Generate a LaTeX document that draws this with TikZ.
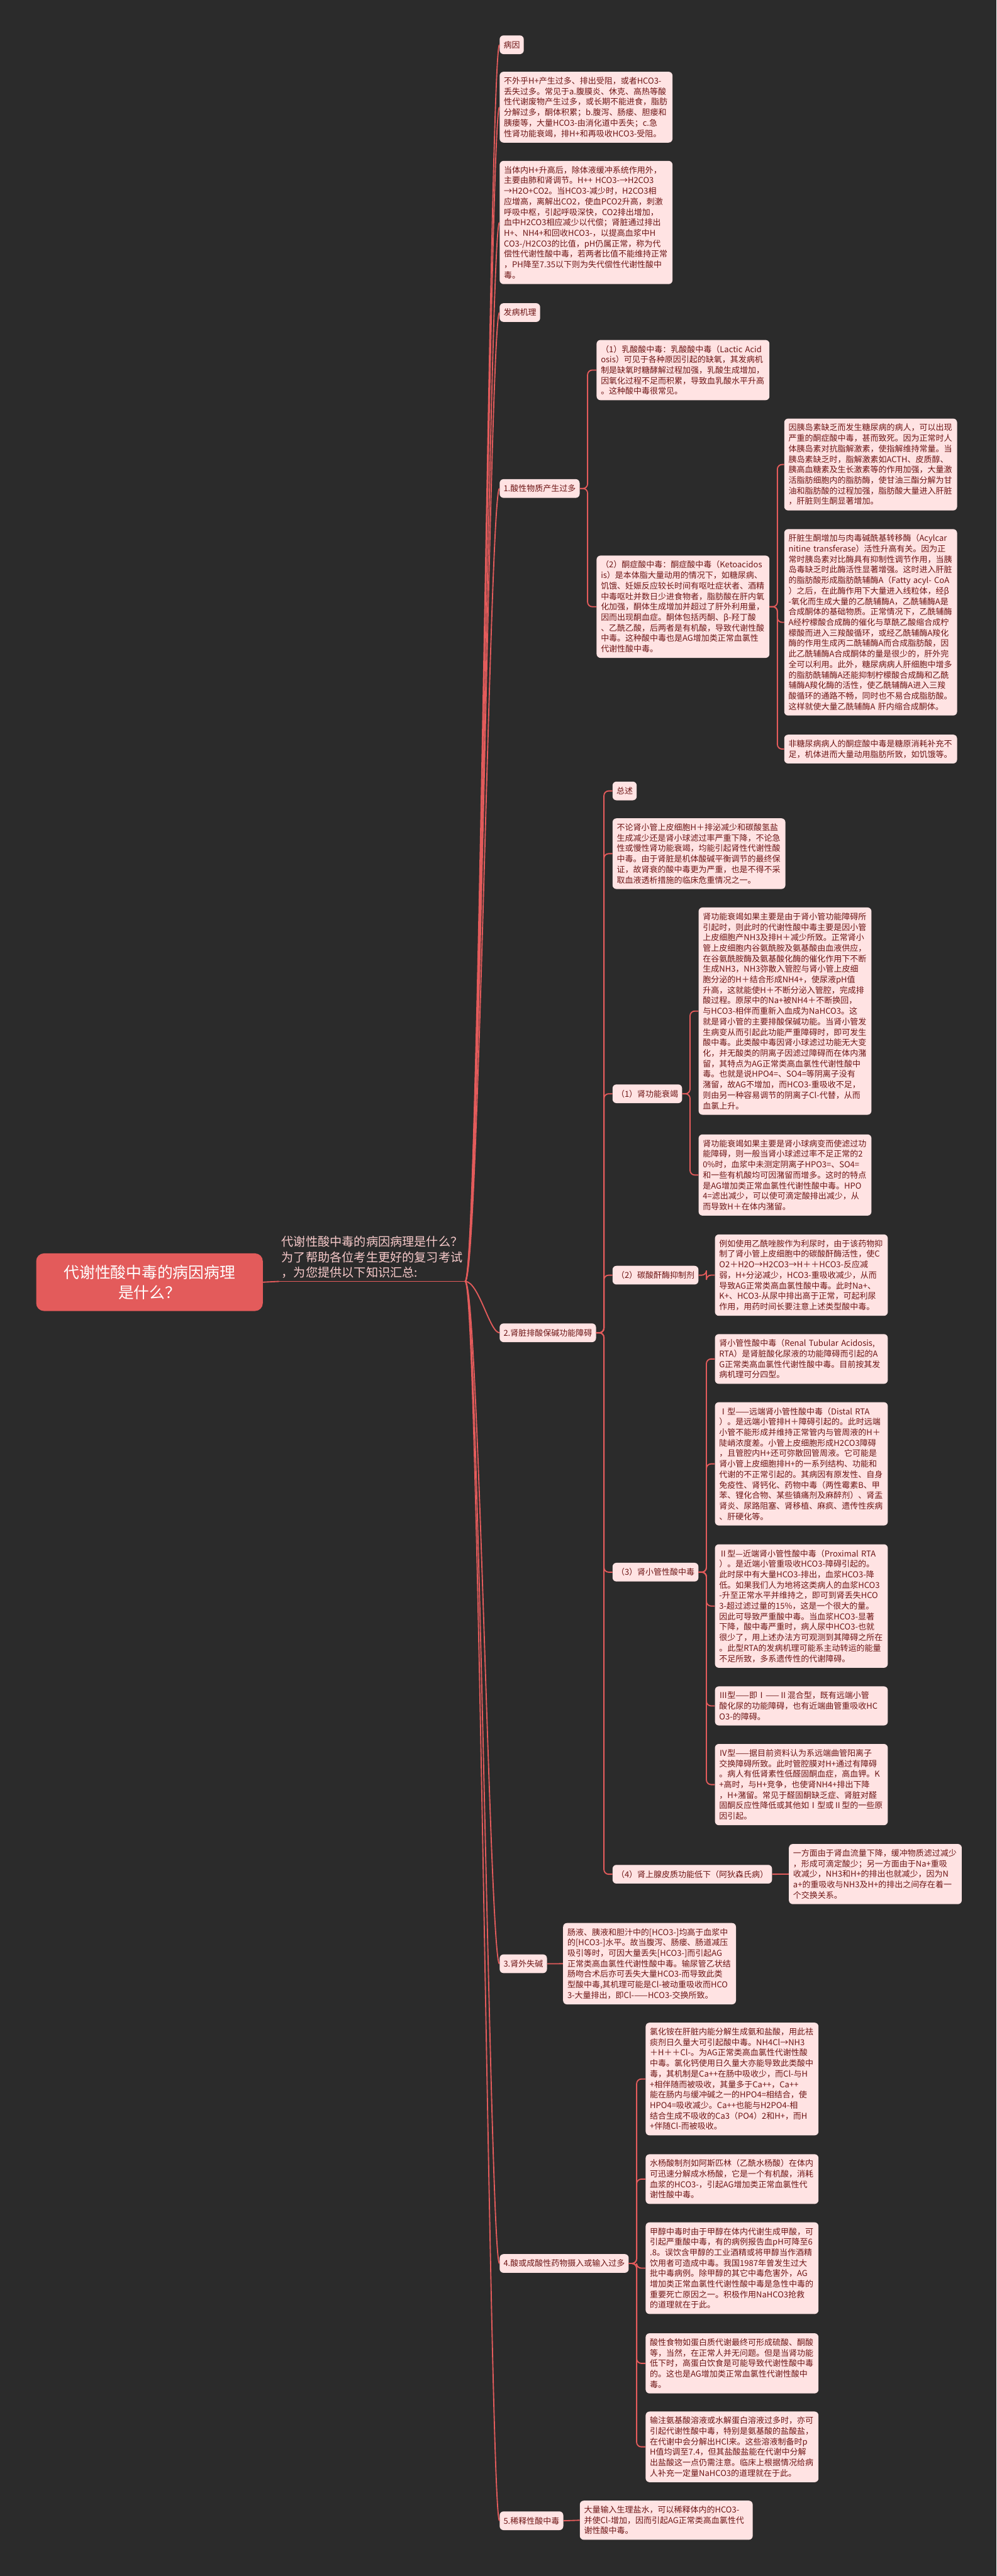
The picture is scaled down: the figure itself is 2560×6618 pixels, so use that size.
\documentclass[tikz,border=0pt]{standalone}
\usepackage{fontspec}
\setmainfont{Noto Sans CJK SC}
\usetikzlibrary{calc}
\definecolor{bg}{HTML}{2B2B2B}
\definecolor{linered}{HTML}{E35B5B}
\definecolor{boxfill}{HTML}{FFE3E3}
\definecolor{txt}{HTML}{6E1616}
\definecolor{rootred}{HTML}{E35B5B}
\definecolor{introtxt}{HTML}{F7CACA}
\newcommand\bodyfont{\fontsize{10.5pt}{13.5pt}\selectfont}
\newcommand\rootfont{\fontsize{20pt}{26pt}\selectfont}
\newcommand\introfont{\fontsize{15.5pt}{19.5pt}\selectfont}
\begin{document}
\begin{tikzpicture}[x=0.5pt,y=-0.5pt,
 box/.style={fill=boxfill, rounded corners=5pt, text=txt, font=\bodyfont, align=left, text width=211pt, inner xsep=5.5pt, inner ysep=6.75pt, anchor=north west},
 lab/.style={fill=boxfill, rounded corners=5pt, text=txt, font=\bodyfont, inner xsep=5pt, inner ysep=0pt, minimum height=24pt, anchor=west},
 conn/.style={draw=linered, line width=1.5pt, rounded corners=6pt},
 curve/.style={draw=linered, line width=1.5pt},
 rootbox/.style={fill=rootred, rounded corners=10pt, text=white, font=\rootfont, align=center, minimum width=291pt, minimum height=74pt},
 intro/.style={text=introtxt, font=\introfont, align=left, inner xsep=3pt, inner ysep=4pt, anchor=south west}
]
\fill[bg] (0,0) rectangle (2560,6618);
\useasboundingbox (0,0) rectangle (2560,6618);

% root and intro
\node[rootbox] (root) at (384,3294) {代谢性酸中毒的病因病理\\是什么？};
\node[intro] (intro) at (717,3292) {代谢性酸中毒的病因病理是什么？\\为了帮助各位考生更好的复习考试\\，为您提供以下知识汇总:};
\draw[curve] (intro.south west) -- (intro.south east);
\coordinate (J) at (intro.south east);
\draw[curve] (root.east) -- (intro.south west);

% level 2
\node[lab] (n1) at (1283,115) {病因};
\node[box] (nA) at (1283,184) {不外乎H+产生过多、排出受阻，或者HCO3-\\丢失过多。常见于a.腹膜炎、休克、高热等酸\\性代谢废物产生过多，或长期不能进食，脂肪\\分解过多，酮体积累；b.腹泻、肠瘘、胆瘘和\\胰瘘等，大量HCO3-由消化道中丢失；c.急\\性肾功能衰竭，排H+和再吸收HCO3-受阻。};
\node[box] (nB) at (1283,413) {当体内H+升高后，除体液缓冲系统作用外，\\主要由肺和肾调节。H++ HCO3-→H2CO3\\→H2O+CO2。当HCO3-减少时，H2CO3相\\应增高，离解出CO2，使血PCO2升高，刺激\\呼吸中枢，引起呼吸深快，CO2排出增加，\\血中H2CO3相应减少以代偿；肾脏通过排出\\H+、NH4+和回收HCO3-，以提高血浆中H\\CO3-/H2CO3的比值，pH仍属正常，称为代\\偿性代谢性酸中毒，若两者比值不能维持正常\\，PH降至7.35以下则为失代偿性代谢性酸中\\毒。};
\node[lab] (n2) at (1283,803) {发病机理};
\node[lab] (n3) at (1283,1255) {1.酸性物质产生过多};
\node[lab] (n4) at (1283,3424) {2.肾脏排酸保碱功能障碍};
\node[lab] (n5) at (1283,5045) {3.肾外失碱};
\node[lab] (n6) at (1283,5815) {4.酸或成酸性药物摄入或输入过多};
\node[lab] (n7) at (1283,6476) {5.稀释性酸中毒};

\foreach \n in {n1,nA,nB,n2,n3,n4,n5,n6,n7}{
  \draw[curve] (J) .. controls ([xshift=17.5pt]J) and ([xshift=-12.5pt]\n.west) .. (\n.west);
}

% 1. acid
\node[box] (r1) at (1532,873) {（1）乳酸酸中毒：乳酸酸中毒（Lactic Acid\\osis）可见于各种原因引起的缺氧，其发病机\\制是缺氧时糖酵解过程加强，乳酸生成增加，\\因氧化过程不足而积累，导致血乳酸水平升高\\。这种酸中毒很常见。};
\node[box] (r2) at (1532,1427) {（2）酮症酸中毒：酮症酸中毒（Ketoacidos\\is）是本体脂大量动用的情况下，如糖尿病、\\饥饿、妊娠反应较长时间有呕吐症状者、酒精\\中毒呕吐并数日少进食物者，脂肪酸在肝内氧\\化加强，酮体生成增加并超过了肝外利用量，\\因而出现酮血症。酮体包括丙酮、β-羟丁酸\\、乙酰乙酸，后两者是有机酸，导致代谢性酸\\中毒。这种酸中毒也是AG增加类正常血氯性\\代谢性酸中毒。};
\node[box] (k1) at (2014,1075) {因胰岛素缺乏而发生糖尿病的病人，可以出现\\严重的酮症酸中毒，甚而致死。因为正常时人\\体胰岛素对抗脂解激素，使指解维持常量。当\\胰岛素缺乏时，脂解激素如ACTH、皮质醇、\\胰高血糖素及生长激素等的作用加强，大量激\\活脂肪细胞内的脂肪酶，使甘油三酯分解为甘\\油和脂肪酸的过程加强，脂肪酸大量进入肝脏\\，肝脏则生酮显著增加。};
\node[box] (k2) at (2014,1359) {肝脏生酮增加与肉毒碱酰基转移酶（Acylcar\\nitine transferase）活性升高有关。因为正\\常时胰岛素对比酶具有抑制性调节作用，当胰\\岛毒缺乏时此酶活性显著增强。这时进入肝脏\\的脂肪酸形成脂肪酰辅酶A（Fatty acyl- CoA\\）之后，在此酶作用下大量进入线粒体，经β\\-氧化而生成大量的乙酰辅酶A，乙酰辅酶A是\\合成酮体的基础物质。正常情况下，乙酰辅酶\\A经柠檬酸合成酶的催化与草酰乙酸缩合成柠\\檬酸而进入三羧酸循环，或经乙酰辅酶A羧化\\酶的作用生成丙二酰辅酶A而合成脂肪酸，因\\此乙酰辅酶A合成酮体的量是很少的，肝外完\\全可以利用。此外，糖尿病病人肝细胞中增多\\的脂肪酰辅酶A还能抑制柠檬酸合成酶和乙酰\\辅酶A羧化酶的活性，使乙酰辅酶A进入三羧\\酸循环的通路不畅，同时也不易合成脂肪酸。\\这样就使大量乙酰辅酶A 肝内缩合成酮体。};
\node[box] (k3) at (2014,1887) {非糖尿病病人的酮症酸中毒是糖原消耗补充不\\足，机体进而大量动用脂肪所致，如饥饿等。};
\foreach \c in {r1,r2}{\draw[conn] (n3.east) -- ++(20,0) |- (\c.west);}
\foreach \c in {k1,k2,k3}{\draw[conn] (r2.east) -- ++(20,0) |- (\c.west);}

% 2. kidney
\node[lab] (s0) at (1573,2032) {总述};
\node[box] (s1) at (1573,2102) {不论肾小管上皮细胞H＋排泌减少和碳酸氢盐\\生成减少还是肾小球滤过率严重下降，不论急\\性或慢性肾功能衰竭，均能引起肾性代谢性酸\\中毒。由于肾脏是机体酸碱平衡调节的最终保\\证，故肾衰的酸中毒更为严重，也是不得不采\\取血液透析措施的临床危重情况之一。};
\node[lab] (s2) at (1573,2810) {（1）肾功能衰竭};
\node[lab] (s3) at (1573,3276) {（2）碳酸酐酶抑制剂};
\node[lab] (s4) at (1573,4039) {（3）肾小管性酸中毒};
\node[lab] (s5) at (1573,4815) {（4）肾上腺皮质功能低下（阿狄森氏病）};
\foreach \c in {s0,s1,s2,s3,s4,s5}{\draw[conn] (n4.east) -- ++(20,0) |- (\c.west);}

\node[box] (s2a) at (1794,2331) {肾功能衰竭如果主要是由于肾小管功能障碍所\\引起时，则此时的代谢性酸中毒主要是因小管\\上皮细胞产NH3及排H＋减少所致。正常肾小\\管上皮细胞内谷氨酰胺及氨基酸由血液供应，\\在谷氨酰胺酶及氨基酸化酶的催化作用下不断\\生成NH3，NH3弥散入管腔与肾小管上皮细\\胞分泌的H＋结合形成NH4+，使尿液pH值\\升高，这就能使H＋不断分泌入管腔，完成排\\酸过程。原尿中的Na+被NH4＋不断换回，\\与HCO3-相伴而重新入血成为NaHCO3。这\\就是肾小管的主要排酸保碱功能。当肾小管发\\生病变从而引起此功能严重障碍时，即可发生\\酸中毒。此类酸中毒因肾小球滤过功能无大变\\化，并无酸类的阴离子因滤过障碍而在体内潴\\留，其特点为AG正常类高血氯性代谢性酸中\\毒。也就是说HPO4=、SO4=等阴离子没有\\潴留，故AG不增加，而HCO3-重吸收不足，\\则由另一种容易调节的阴离子Cl-代替，从而\\血氯上升。};
\node[box] (s2b) at (1794,2914) {肾功能衰竭如果主要是肾小球病变而使滤过功\\能障碍，则一般当肾小球滤过率不足正常的2\\0\%时，血浆中未测定阴离子HPO3=、SO4=\\和一些有机酸均可因潴留而增多。这时的特点\\是AG增加类正常血氯性代谢性酸中毒。HPO\\4=滤出减少，可以使可滴定酸排出减少，从\\而导致H＋在体内潴留。};
\foreach \c in {s2a,s2b}{\draw[conn] (s2.east) -- ++(20,0) |- (\c.west);}

\node[box] (s3a) at (1836,3171) {例如使用乙酰唑胺作为利尿时，由于该药物抑\\制了肾小管上皮细胞中的碳酸酐酶活性，使C\\O2＋H2O→H2CO3→H＋＋HCO3-反应减\\弱，H+分泌减少，HCO3-重吸收减少，从而\\导致AG正常类高血氯性酸中毒。此时Na+、\\K+、HCO3-从尿中排出高于正常，可起利尿\\作用，用药时间长要注意上述类型酸中毒。};
\draw[conn] (s3.east) -- ++(20,0) |- (s3a.west);

\node[box] (s4a) at (1836,3427) {肾小管性酸中毒（Renal Tubular Acidosis,\\RTA）是肾脏酸化尿液的功能障碍而引起的A\\G正常类高血氯性代谢性酸中毒。目前按其发\\病机理可分四型。};
\node[box] (s4b) at (1836,3602) {Ⅰ型——远端肾小管性酸中毒（Distal RTA\\）。是远端小管排H＋障碍引起的。此时远端\\小管不能形成并维持正常管内与管周液的H＋\\陡峭浓度差。小管上皮细胞形成H2CO3障碍\\，且管腔内H+还可弥散回管周液。它可能是\\肾小管上皮细胞排H+的一系列结构、功能和\\代谢的不正常引起的。其病因有原发性、自身\\免疫性、肾钙化、药物中毒（两性霉素B、甲\\苯、锂化合物、某些镇痛剂及麻醉剂）、肾盂\\肾炎、尿路阻塞、肾移植、麻疯、遗传性疾病\\、肝硬化等。};
\node[box] (s4c) at (1836,3967) {Ⅱ型—近端肾小管性酸中毒（Proximal RTA\\）。是近端小管重吸收HCO3-障碍引起的。\\此时尿中有大量HCO3-排出，血浆HCO3-降\\低。如果我们人为地将这类病人的血浆HCO3\\-升至正常水平并维持之，即可到肾丢失HCO\\3-超过滤过量的15\%，这是一个很大的量。\\因此可导致严重酸中毒。当血浆HCO3-显著\\下降，酸中毒严重时，病人尿中HCO3-也就\\很少了，用上述办法方可观测到其障碍之所在\\。此型RTA的发病机理可能系主动转运的能量\\不足所致，多系遗传性的代谢障碍。};
\node[box] (s4d) at (1836,4332) {Ⅲ型——即Ⅰ——Ⅱ混合型，既有远端小管\\酸化尿的功能障碍，也有近端曲管重吸收HC\\O3-的障碍。};
\node[box] (s4e) at (1836,4480) {Ⅳ型——据目前资料认为系远端曲管阳离子\\交换障碍所致。此时管腔膜对H+通过有障碍\\。病人有低肾素性低醛固酮血症，高血钾。K\\+高时，与H+竞争，也使肾NH4+排出下降\\，H+潴留。常见于醛固酮缺乏症、肾脏对醛\\固酮反应性降低或其他如Ⅰ型或Ⅱ型的一些原\\因引起。};
\foreach \c in {s4a,s4b,s4c,s4d,s4e}{\draw[conn] (s4.east) -- ++(20,0) |- (\c.west);}

\node[box] (s5a) at (2026,4737) {一方面由于肾血流量下降，缓冲物质滤过减少\\，形成可滴定酸少；另一方面由于Na+重吸\\收减少，NH3和H+的排出也就减少，因为N\\a+的重吸收与NH3及H+的排出之间存在着一\\个交换关系。};
\draw[conn] (s5.east) -- (s5a.west);

% 3.
\node[box] (e1) at (1446,4940) {肠液、胰液和胆汁中的[HCO3-]均高于血浆中\\的[HCO3-]水平。故当腹泻、肠瘘、肠道减压\\吸引等时，可因大量丢失[HCO3-]而引起AG\\正常类高血氯性代谢性酸中毒。输尿管乙状结\\肠吻合术后亦可丢失大量HCO3-而导致此类\\型酸中毒,其机理可能是Cl-被动重吸收而HCO\\3-大量排出，即Cl-——HCO3-交换所致。};
\draw[conn] (n5.east) -- (e1.west);

% 4.
\node[box] (d1) at (1658,5196) {氯化铵在肝脏内能分解生成氨和盐酸，用此祛\\痰剂日久量大可引起酸中毒。NH4Cl→NH3\\＋H＋＋Cl-。为AG正常类高血氯性代谢性酸\\中毒。氯化钙使用日久量大亦能导致此类酸中\\毒，其机制是Ca++在肠中吸收少，而Cl-与H\\+相伴随而被吸收，其量多于Ca++，Ca++\\能在肠内与缓冲碱之一的HPO4=相结合，使\\HPO4=吸收减少。Ca++也能与H2PO4-相\\结合生成不吸收的Ca3（PO4）2和H+，而H\\+伴随Cl-而被吸收。};
\node[box] (d2) at (1658,5534) {水杨酸制剂如阿斯匹林（乙酰水杨酸）在体内\\可迅速分解成水杨酸，它是一个有机酸，消耗\\血浆的HCO3-，引起AG增加类正常血氯性代\\谢性酸中毒。};
\node[box] (d3) at (1658,5709) {甲醇中毒时由于甲醇在体内代谢生成甲酸，可\\引起严重酸中毒，有的病例报告血pH可降至6\\.8。误饮含甲醇的工业酒精或将甲醇当作酒精\\饮用者可造成中毒。我国1987年曾发生过大\\批中毒病例。除甲醇的其它中毒危害外，AG\\增加类正常血氯性代谢性酸中毒是急性中毒的\\重要死亡原因之一。积极作用NaHCO3抢救\\的道理就在于此。};
\node[box] (d4) at (1658,5994) {酸性食物如蛋白质代谢最终可形成硫酸、酮酸\\等，当然，在正常人并无问题。但是当肾功能\\低下时，高蛋白饮食是可能导致代谢性酸中毒\\的。这也是AG增加类正常血氯性代谢性酸中\\毒。};
\node[box] (d5) at (1658,6195) {输注氨基酸溶液或水解蛋白溶液过多时，亦可\\引起代谢性酸中毒，特别是氨基酸的盐酸盐，\\在代谢中会分解出HCl来。这些溶液制备时p\\H值均调至7.4，但其盐酸盐能在代谢中分解\\出盐酸这一点仍需注意。临床上根据情况给病\\人补充一定量NaHCO3的道理就在于此。};
\foreach \c in {d1,d2,d3,d4,d5}{\draw[conn] (n6.east) -- ++(20,0) |- (\c.west);}

% 5.
\node[box] (x1) at (1489,6424) {大量输入生理盐水，可以稀释体内的HCO3-\\并使Cl-增加，因而引起AG正常类高血氯性代\\谢性酸中毒。};
\draw[conn] (n7.east) -- (x1.west);
\end{tikzpicture}
\end{document}
